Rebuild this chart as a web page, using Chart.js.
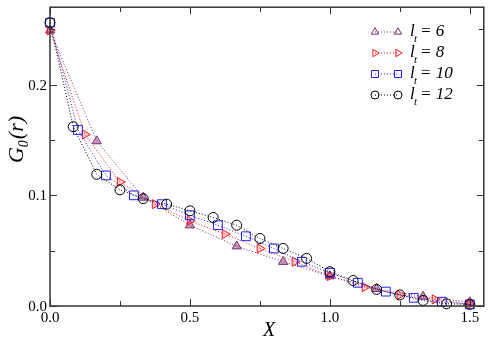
<!DOCTYPE html>
<html>
<head>
<meta charset="utf-8">
<script src="https://cdn.jsdelivr.net/npm/chart.js@4/dist/chart.umd.min.js"></script>
<style>html,body{margin:0;padding:0;background:#fff}</style>
</head>
<body>
<canvas id="chart" width="491" height="345"></canvas>
<script>
// tick labels
const xTicks = [0, 0.5, 1.0, 1.5];
const yTicks = [0, 0.1, 0.2];
const xMinor = [0.25, 0.75, 1.25];
const yMinor = [0.05, 0.15, 0.25];

// series, X
const x6 = [0, 0.167, 0.333, 0.5, 0.667, 0.833, 1.0, 1.167, 1.333, 1.5];
const y6 = [0.249, 0.149, 0.098, 0.073, 0.054, 0.040, 0.027, 0.0155, 0.0086, 0.0035];

const x8 = [0, 0.125, 0.25, 0.375, 0.5, 0.625, 0.75, 0.875, 1.0, 1.125, 1.25, 1.375, 1.5];
const y8 = [0.249, 0.155, 0.112, 0.092, 0.077, 0.065, 0.052, 0.040, 0.027, 0.017, 0.010, 0.006, 0.0015];

const x10 = [0, 0.1, 0.2, 0.3, 0.4, 0.5, 0.6, 0.7, 0.8, 0.9, 1.0, 1.1, 1.2, 1.3, 1.4, 1.5];
const y10 = [0.256, 0.159, 0.118, 0.100, 0.092, 0.082, 0.073, 0.063, 0.052, 0.040, 0.030, 0.021, 0.013, 0.0074, 0.0039, 0.0015];

const x12 = [0, 0.083, 0.167, 0.25, 0.333, 0.417, 0.5, 0.583, 0.667, 0.75, 0.833, 0.917, 1.0, 1.083, 1.167, 1.25, 1.333, 1.417, 1.5];
const y12 = [0.256, 0.162, 0.119, 0.105, 0.097, 0.092, 0.086, 0.080, 0.073, 0.061, 0.052, 0.043, 0.031, 0.023, 0.015, 0.010, 0.005, 0.002, 0.0015];

const legendNames = ["6", "8", "10", "12"];

const pts = (xs, ys) => xs.map((x, i) => ({ x: x, y: ys[i] }));

const serif = '"Liberation Serif", "Times New Roman", Times, serif';

function series(label, data, color, fill, style, rot, r) {
  return {
    label: label,
    data: data,
    borderColor: color,
    backgroundColor: fill,
    borderWidth: 1,
    borderDash: [1, 2],
    pointStyle: style,
    pointRotation: rot,
    pointRadius: r,
    pointBorderColor: color,
    pointBackgroundColor: fill,
    pointBorderWidth: 1,
    showLine: true,
    fill: false,
    clip: false
  };
}

const datasets = [
  series("12", pts(x12, y12), "#000000", "rgba(255,255,255,0)", "circle", 0, 5),
  series("10", pts(x10, y10), "#2020ff", "rgba(255,255,255,0)", "rect", 0, 6.2),
  series("8", pts(x8, y8), "#ff1a1a", "rgba(255,60,60,0.25)", "triangle", 90, 5.3),
  series("6", pts(x6, y6), "#7f2a6c", "rgba(127,42,108,0.45)", "triangle", 0, 5.3)
];

const frame = {
  id: "frame",
  afterDraw(chart) {
    const c = chart.ctx, a = chart.chartArea;
    const xs = chart.scales.x, ys = chart.scales.y;
    c.save();
    c.strokeStyle = "#333";
    c.lineWidth = 1.5;
    c.strokeRect(a.left, a.top, a.right - a.left, a.bottom - a.top);
    c.lineWidth = 1;
    c.beginPath();
    const tx = (v, len) => {
      const p = Math.round(xs.getPixelForValue(v)) + 0.5;
      c.moveTo(p, a.bottom); c.lineTo(p, a.bottom - len);
      c.moveTo(p, a.top); c.lineTo(p, a.top + len);
    };
    const ty = (v, len) => {
      const p = Math.round(ys.getPixelForValue(v)) + 0.5;
      c.moveTo(a.left, p); c.lineTo(a.left + len, p);
      c.moveTo(a.right, p); c.lineTo(a.right - len, p);
    };
    xTicks.forEach(v => tx(v, 7));
    xMinor.forEach(v => tx(v, 5));
    yTicks.forEach(v => ty(v, 7));
    yMinor.forEach(v => ty(v, 5));
    c.stroke();

    c.fillStyle = "#000";
    c.font = "15px " + serif;
    c.textAlign = "center";
    c.textBaseline = "middle";
    xTicks.forEach(v => c.fillText(v.toFixed(1), xs.getPixelForValue(v), a.bottom + 12));
    c.textAlign = "right";
    yTicks.forEach(v => c.fillText(v.toFixed(1), a.left - 3, ys.getPixelForValue(v) + 1));

    // axis titles
    c.font = "italic 20px " + serif;
    c.textAlign = "center";
    c.fillText("X", 269, 331);

    c.save();
    c.translate(17, 140);
    c.rotate(-Math.PI / 2);
    c.textAlign = "left";
    const g = "G", rr = "(r)";
    c.font = "italic 22px " + serif;
    const wG = c.measureText(g).width;
    c.font = "italic 14px " + serif;
    const w0 = c.measureText("0").width;
    c.font = "italic 22px " + serif;
    const wR = c.measureText(rr).width;
    let sx = -(wG + w0 + wR) / 2;
    c.fillText(g, sx, 0);
    c.font = "italic 14px " + serif;
    c.fillText("0", sx + wG, 7);
    c.font = "italic 22px " + serif;
    c.fillText(rr, sx + wG + w0 + 1, 0);
    c.restore();

    // legend
    const rows = [32, 53, 74, 95];
    const order = [3, 2, 1, 0];
    order.forEach((di, k) => {
      const ds = chart.data.datasets[di];
      const y = rows[k];
      c.strokeStyle = ds.borderColor;
      c.lineWidth = 1;
      c.setLineDash([1, 2]);
      c.beginPath();
      c.moveTo(375, y); c.lineTo(398, y);
      c.stroke();
      c.setLineDash([]);
      [375, 398].forEach(px => {
        c.strokeStyle = ds.pointBorderColor;
        c.fillStyle = "rgba(255,255,255,0)";
        Chart.helpers.drawPoint(c, {
          pointStyle: ds.pointStyle, radius: ds.pointRadius * 0.8,
          rotation: ds.pointRotation, borderWidth: 1
        }, px, y);
      });
      c.fillStyle = "#000";
      c.textAlign = "left";
      c.font = "italic 17px " + serif;
      c.fillText("l", 410, y);
      c.font = "italic 11px " + serif;
      c.fillText("t", 414, y + 7);
      c.font = "italic 17px " + serif;
      c.fillText("= " + legendNames[k], 420, y);
    });
    c.restore();
  }
};

new Chart(document.getElementById("chart"), {
  type: "scatter",
  data: { datasets: datasets },
  options: {
    responsive: false,
    animation: false,
    layout: { padding: { left: 50, right: 1, top: 1, bottom: 39 } },
    plugins: { legend: { display: false }, tooltip: { enabled: false } },
    scales: {
      x: { type: "linear", min: 0, max: 1.55, display: false },
      y: { type: "linear", min: 0, max: 0.27, display: false }
    }
  },
  plugins: [frame]
});
</script>
</body>
</html>
